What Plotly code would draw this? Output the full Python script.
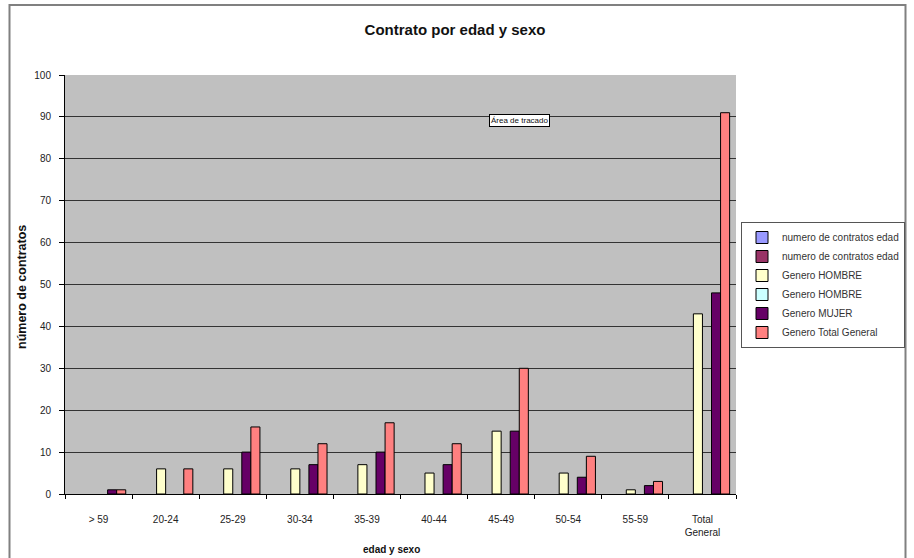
import plotly.graph_objects as go

categories = ["> 59", "20-24", "25-29", "30-34", "35-39", "40-44", "45-49", "50-54", "55-59", "Total<br>General"]

series_names = [
    "numero de contratos edad",
    "numero de contratos edad",
    "Genero HOMBRE",
    "Genero HOMBRE",
    "Genero MUJER",
    "Genero Total General",
]
series_colors = ["#9999FF", "#993366", "#FFFFCC", "#CCFFFF", "#660066", "#FF8080"]

contratos_edad_a = [None] * 10
contratos_edad_b = [None] * 10
hombre = [None, 6, 6, 6, 7, 5, 15, 5, 1, 43]
hombre_b = [None] * 10
mujer = [1, None, 10, 7, 10, 7, 15, 4, 2, 48]
total_general = [1, 6, 16, 12, 17, 12, 30, 9, 3, 91]

series_values = [contratos_edad_a, contratos_edad_b, hombre, hombre_b, mujer, total_general]

W, H = 914, 558
L, R, T, B = 65, 178, 75, 64
pw, ph = W - L - R, H - T - B

def px_x(x):
    return (x - L) / pw

def px_y(y):
    return (H - B - y) / ph

FONT = "Liberation Sans, Arial, sans-serif"

fig = go.Figure()
for name, color, vals in zip(series_names, series_colors, series_values):
    fig.add_trace(go.Bar(
        x=categories, y=vals, name=name,
        marker=dict(color=color, line=dict(color="#000000", width=1)),
    ))

fig.update_layout(
    width=W, height=H,
    margin=dict(l=L, r=R, t=T, b=B, autoexpand=False),
    paper_bgcolor="white",
    plot_bgcolor="#C0C0C0",
    barmode="group",
    bargap=0.19,
    bargroupgap=0,
    font=dict(family=FONT, size=10, color="#222222"),
    title=dict(text="<b>Contrato por edad y sexo</b>", x=455 / W, xanchor="center",
               y=1 - 30 / H, yanchor="middle", font=dict(size=15, color="#111111")),
    showlegend=True,
    legend=dict(
        x=px_x(741), xanchor="left", y=px_y(222), yanchor="top",
        bgcolor="white", bordercolor="#555555", borderwidth=1,
        font=dict(size=10, color="#333333"),
        tracegroupgap=0, itemwidth=30,
    ),
    xaxis=dict(
        showgrid=False, showline=True, linecolor="#000000", linewidth=1,
        ticks="outside", ticklen=4, tickcolor="#000000", tickson="boundaries",
        ticklabelstandoff=16, tickfont=dict(size=10, color="#222222"),
        mirror=False,
    ),
    yaxis=dict(
        range=[0, 100], dtick=10, showgrid=True, gridcolor="#333333", gridwidth=1,
        showline=True, linecolor="#000000", linewidth=1,
        ticks="outside", ticklen=5, tickcolor="#000000", ticklabelstandoff=6,
        tickfont=dict(size=10, color="#222222"), zeroline=False,
    ),
    annotations=[
        dict(text="<b>número de contratos</b>", xref="paper", yref="paper",
             x=px_x(22), y=px_y(287), textangle=-90, showarrow=False,
             font=dict(size=12.5, color="#111111"), xanchor="center", yanchor="middle"),
        dict(text="<b>edad y sexo</b>", xref="paper", yref="paper",
             x=px_x(391), y=px_y(549), showarrow=False,
             font=dict(size=10, color="#111111"), xanchor="center", yanchor="middle"),
        dict(text="Área de tracado", xref="paper", yref="paper",
             x=px_x(519), y=px_y(120), showarrow=False,
             font=dict(size=8, color="#111111"), bgcolor="white",
             bordercolor="#000000", borderwidth=1, borderpad=1,
             xanchor="center", yanchor="middle"),
    ],
    shapes=[
        dict(type="rect", xref="paper", yref="paper",
             x0=px_x(9.5), x1=px_x(905.5), y0=px_y(575), y1=px_y(5),
             line=dict(color="#808080", width=2), fillcolor="rgba(0,0,0,0)", layer="below"),
    ],
)

fig.write_html("out.html", config={"displayModeBar": False},
               post_script="document.body.style.margin='0';document.body.style.padding='0';")
